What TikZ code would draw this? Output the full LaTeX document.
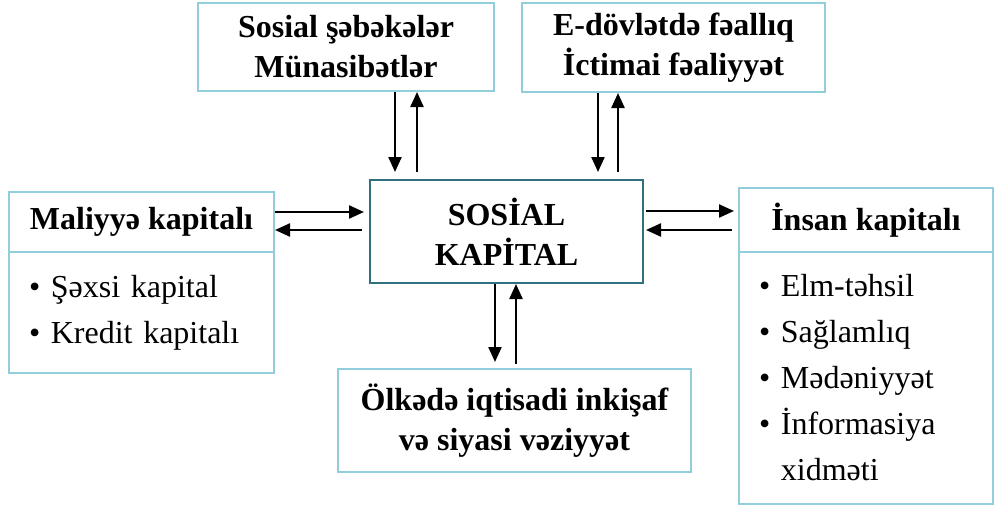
\documentclass[tikz,border=0pt]{standalone}
\usepackage{fontspec}
\setmainfont{Liberation Serif}
\usetikzlibrary{arrows.meta}
\definecolor{boxblue}{HTML}{92CDDC}
\definecolor{darkteal}{HTML}{31707E}

\begin{document}
\begin{tikzpicture}[x=1pt, y=-1pt,
    box/.style={draw=boxblue, line width=2pt, inner sep=0pt, align=center,
        font=\fontsize{32}{40}\selectfont\bfseries},
    mainbox/.style={box, draw=darkteal},
    listbox/.style={draw=boxblue, line width=2pt, inner xsep=20pt, inner ysep=0pt,
        align=left, font=\fontsize{32}{46}\selectfont},
    arr/.style={-{Triangle[length=15pt,width=13pt]}, line width=2.3pt}]
        \useasboundingbox (0,0) rectangle (994,506);

        \node[box, minimum width=296pt, minimum height=88pt] (soc) at (346,47)
            {Sosial şəbəkələr\\Münasibətlər};
        \node[box, minimum width=303pt, minimum height=89pt] (edv) at (673.5,47.5)
            {E-dövlətdə fəallıq\\İctimai fəaliyyət};
        \node[mainbox, minimum width=273pt, minimum height=103pt] (kap) at (506.5,231.5)
            {SOSİAL\\KAPİTAL};
        \node[box, minimum width=353pt, minimum height=103pt] (olk) at (514.5,420.5)
            {Ölkədə iqtisadi inkişaf\\və siyasi vəziyyət};

        % left part
        \node[box, minimum width=265pt, minimum height=60pt] (mal) at (141.5,222)
            {Maliyyə kapitalı};
        \node[listbox, text width=225pt, minimum height=121pt] (malb) at (141.5,312.5)
            {\textbullet\ Şəxsi kapital\\\textbullet\ Kredit kapitalı};

        % right part
        \node[box, minimum width=254pt, minimum height=64pt] (ins) at (866,220)
            {İnsan kapitalı};
        \node[listbox, text width=214pt, minimum height=252pt] (insb) at (866,378)
            {\textbullet\ Elm-təhsil\\\textbullet\ Sağlamlıq\\\textbullet\ Mədəniyyət\\
             \textbullet\ İnformasiya\\\phantom{\textbullet\ }xidməti};

        \draw[arr, shorten >=7pt] ([xshift=49pt]soc.south) -- ([xshift=49pt]soc.south |- kap.north);
        \draw[arr, shorten <=7pt] ([xshift=71pt]soc.south |- kap.north) -- ([xshift=71pt]soc.south);
        \draw[arr, shorten >=7pt] ([xshift=-75.5pt]edv.south) -- ([xshift=-75.5pt]edv.south |- kap.north);
        \draw[arr, shorten <=7pt] ([xshift=-55.5pt]edv.south |- kap.north) -- ([xshift=-55.5pt]edv.south);

        \draw[arr, shorten >=6pt] ([xshift=-11.5pt]kap.south) -- ([xshift=-11.5pt]kap.south |- olk.north);
        \draw[arr, shorten <=4pt] ([xshift=9.5pt]kap.south |- olk.north) -- ([xshift=9.5pt]kap.south);

        \draw[arr, shorten >=5pt] ([yshift=10pt]mal.east) -- ([yshift=10pt]mal.east -| kap.west);
        \draw[arr, shorten <=7pt] ([yshift=-8pt]mal.east -| kap.west) -- ([yshift=-8pt]mal.east);

        \draw[arr, shorten <=2pt, shorten >=4pt] ([yshift=9pt]ins.west -| kap.east) -- ([yshift=9pt]ins.west);
        \draw[arr, shorten <=6pt, shorten >=2pt] ([yshift=-10pt]ins.west) -- ([yshift=-10pt]ins.west -| kap.east);
    \end{tikzpicture}
\end{document}
